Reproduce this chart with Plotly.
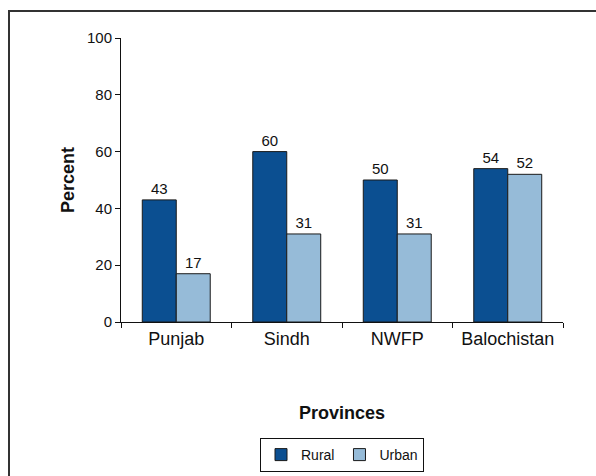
import plotly.graph_objects as go

# Share of households by province, rural vs urban (percent)
provinces = ["Punjab", "Sindh", "NWFP", "Balochistan"]
rural = [43, 60, 50, 54]
urban = [17, 31, 31, 52]
y_ticks = [0, 20, 40, 60, 80, 100]

DARK = "#0B4F91"
LIGHT = "#96BBD8"
FONT = "Liberation Sans, Arial, sans-serif"

# Plot-area geometry in pixels (used to place the frame and titles)
W, H = 596, 476
L, R, T, B = 121, 33, 38, 154
pw, ph = W - L - R, H - T - B


def px_x(x):
    return (x - L) / pw


def px_y(y):
    return (H - B - y) / ph


fig = go.Figure()
for name, vals, col in [("Rural", rural, DARK), ("Urban", urban, LIGHT)]:
    fig.add_trace(go.Bar(
        name=name, x=provinces, y=vals,
        marker=dict(color=col, line=dict(color="#1a1a1a", width=1)),
        text=[str(v) for v in vals], textposition="outside",
        textfont=dict(size=15, color="#111", family=FONT),
        cliponaxis=False,
    ))

fig.update_layout(
    width=W, height=H,
    margin=dict(l=L, r=R, t=T, b=B, autoexpand=False),
    paper_bgcolor="white", plot_bgcolor="white",
    barmode="group", bargap=0.385, bargroupgap=0,
    font=dict(family=FONT, color="#111"),
    showlegend=True,
    legend=dict(
        orientation="h", x=0.5, xanchor="center",
        y=px_y(438), yanchor="top",
        bordercolor="#111", borderwidth=1,
        font=dict(size=14, family=FONT, color="#111"),
        itemwidth=30, tracegroupgap=0,
    ),
    xaxis=dict(
        showline=True, linecolor="#111", linewidth=1,
        ticks="outside", tickson="boundaries", ticklen=5, tickcolor="#111",
        tickfont=dict(size=18, family=FONT, color="#111"),
        showgrid=False, zeroline=False, automargin=False,
    ),
    yaxis=dict(
        range=[0, 100], tickvals=y_ticks,
        showline=True, linecolor="#111", linewidth=1,
        ticks="outside", ticklen=5, tickcolor="#111",
        tickfont=dict(size=15, family=FONT, color="#111"),
        showgrid=False, zeroline=False, automargin=False,
    ),
    annotations=[
        dict(text="<b>Percent</b>", x=px_x(56), y=0.5, xref="paper", yref="paper",
             textangle=-90, showarrow=False, font=dict(size=18, family=FONT, color="#111")),
        dict(text="<b>Provinces</b>", x=0.5, y=px_y(425), xref="paper", yref="paper",
             showarrow=False, font=dict(size=18, family=FONT, color="#111")),
    ],
    shapes=[
        dict(type="rect", xref="paper", yref="paper",
             x0=px_x(9), x1=px_x(W + 10), y0=px_y(H + 10), y1=px_y(11),
             line=dict(color="#333", width=2), layer="below"),
    ],
)

fig.write_html("out.html")
